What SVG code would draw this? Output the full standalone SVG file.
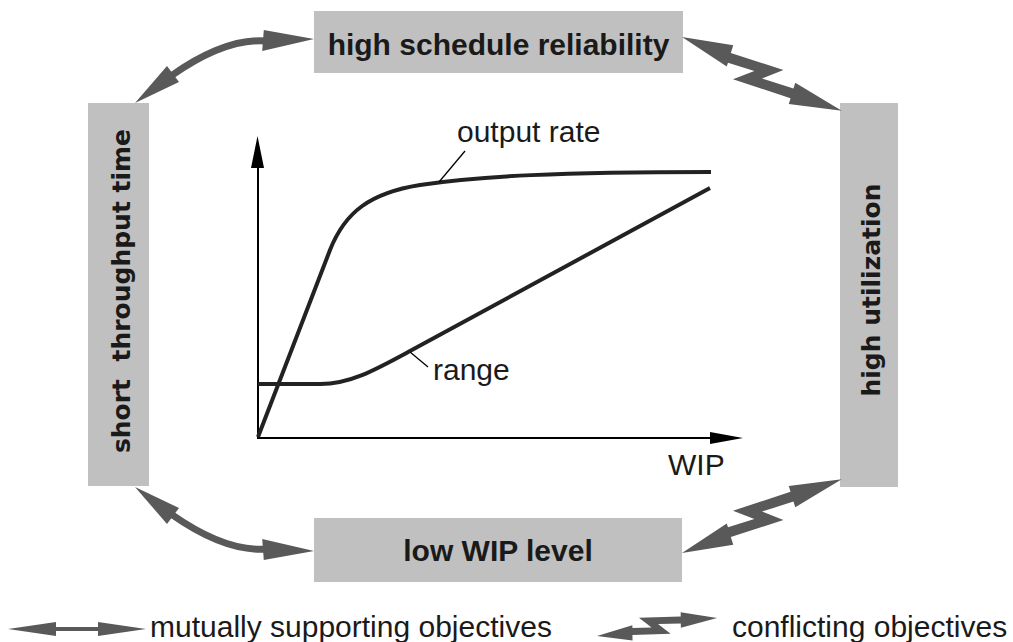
<svg xmlns="http://www.w3.org/2000/svg" width="1013" height="642" viewBox="0 0 1013 642">
<style>
.box{fill:#c0c0c0}
.bt{font-family:"Liberation Sans",Arial,sans-serif;font-weight:bold;font-size:30px;fill:#1a1a1a;text-anchor:middle}
.vt{font-family:"DejaVu Sans",sans-serif;font-weight:bold;font-size:25px;fill:#1a1a1a;text-anchor:middle}
.lbl{font-family:"Liberation Sans",Arial,sans-serif;font-size:30px;fill:#1a1a1a}
.arr{fill:#595959}
.shaft{fill:none;stroke:#595959;stroke-width:7}
.curve{fill:none;stroke:#222;stroke-width:4;stroke-linejoin:round}
.axis{stroke:#000;stroke-width:2;fill:none}
.lead{stroke:#000;stroke-width:1.3}
</style>
<defs>
<g id="dbl">
<path class="shaft" d="M266,41 Q225,38 171,76"/>
<polygon class="arr" points="314,39 263.8,30 262.2,51"/>
<polygon class="arr" points="135,103 167,66 179,82"/>
</g>
<polygon id="zig" class="arr" points="0,0 50,-14 51,-6 106,-12.5 90,4 122.8,0 122,-6 176,0 125,16 124.2,10 64,17 80,0.6 52.5,4 53,8"/>
</defs>
<g id="node-top"><rect class="box" x="314" y="11" width="369" height="62"/><text class="bt" x="498.5" y="55">high schedule reliability</text></g>
<g id="node-left"><rect class="box" x="88" y="103" width="61" height="383"/><text class="vt" transform="translate(130,291) rotate(-90)" xml:space="preserve">short  throughput time</text></g>
<g id="node-right"><rect class="box" x="840" y="103" width="58" height="384"/><text class="vt" transform="translate(880,290) rotate(-90)">high utilization</text></g>
<g id="node-bottom"><rect class="box" x="314" y="518" width="368" height="64"/><text class="bt" x="498" y="561">low WIP level</text></g>
<g id="connectors">
<use href="#dbl"/>
<use href="#dbl" transform="translate(0,590) scale(1,-1)"/>
<use href="#zig" transform="translate(682,37) rotate(24.8)"/>
<use href="#zig" transform="translate(0,590) scale(1,-1) translate(682,37) rotate(24.8)"/>
</g>
<g id="chart">
<line class="axis" x1="258" y1="438" x2="258" y2="166"/>
<polygon points="257.5,136 251,168 264,168" fill="#000"/>
<line class="axis" x1="257" y1="438" x2="712" y2="438"/>
<polygon points="743,438 710,432 710,444" fill="#000"/>
<path class="curve" d="M258,437 L330,250 C345,212 370,193 420,185 C480,176 560,172 711,172"/>
<path class="curve" d="M258,384 L320,384 C350,384 375,370 410,351 L710,188"/>
<line class="lead" x1="465" y1="151" x2="439" y2="182"/>
<line class="lead" x1="428" y1="367" x2="410" y2="352"/>
<text class="lbl" x="457" y="142">output rate</text>
<text class="lbl" x="433" y="380">range</text>
<text class="lbl" x="668" y="475">WIP</text>
</g>
<g id="legend">
<polygon class="arr" points="8,629 56,622 56,627 98,627 98,622 146,629 98,636 98,631 56,631 56,636"/>
<text class="lbl" x="150" y="637">mutually supporting objectives</text>
<use href="#zig" transform="translate(597,636) rotate(-8.5) scale(0.69,-0.69)"/>
<text class="lbl" x="732" y="637">conflicting objectives</text>
</g>
</svg>
